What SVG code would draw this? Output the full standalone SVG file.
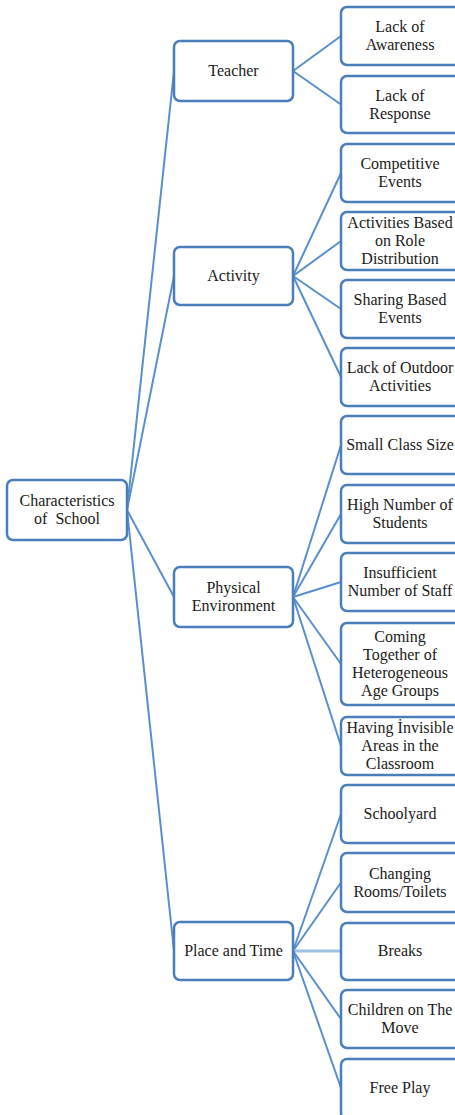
<svg xmlns="http://www.w3.org/2000/svg" width="455" height="1115" viewBox="0 0 455 1115">
<style>
.box{fill:#fff;stroke:#4a7ebb;stroke-width:2.5}
.t{font-family:"Liberation Serif","Times New Roman",serif;font-size:16px;fill:#1a1a1a;text-anchor:middle}
.c{stroke:#5a8fcb;stroke-width:2;fill:none}
.cl{stroke:#9fc2e6;stroke-width:3;fill:none}
</style>
<rect width="455" height="1115" fill="#fff"/>
<g id="connectors">
<line class="c" x1="127" y1="510" x2="174" y2="71"/>
<line class="c" x1="127" y1="510" x2="174" y2="276"/>
<line class="c" x1="127" y1="510" x2="174" y2="597"/>
<line class="c" x1="127" y1="510" x2="174" y2="951"/>
<line class="c" x1="293" y1="71" x2="341" y2="36"/>
<line class="c" x1="293" y1="71" x2="341" y2="104.5"/>
<line class="c" x1="293" y1="276" x2="341" y2="173"/>
<line class="c" x1="293" y1="276" x2="341" y2="241"/>
<line class="c" x1="293" y1="276" x2="341" y2="309"/>
<line class="c" x1="293" y1="276" x2="341" y2="377"/>
<line class="c" x1="293" y1="597" x2="341" y2="445"/>
<line class="c" x1="293" y1="597" x2="341" y2="514"/>
<line class="c" x1="293" y1="597" x2="341" y2="582"/>
<line class="c" x1="293" y1="597" x2="341" y2="664"/>
<line class="c" x1="293" y1="597" x2="341" y2="746"/>
<line class="c" x1="293" y1="951" x2="341" y2="814"/>
<line class="c" x1="293" y1="951" x2="341" y2="882.5"/>
<line class="cl" x1="293" y1="951" x2="341" y2="951"/>
<line class="c" x1="293" y1="951" x2="341" y2="1019"/>
<line class="c" x1="293" y1="951" x2="341" y2="1088"/>
</g>
<g id="root"><rect class="box" x="7" y="480" width="120" height="60" rx="6"/><text class="t" x="67" y="506">Characteristics</text><text class="t" x="67" y="524" xml:space="preserve">of  School</text></g>
<g id="teacher"><rect class="box" x="174" y="41" width="119" height="60" rx="6"/><text class="t" x="233.5" y="76">Teacher</text></g>
<g id="activity"><rect class="box" x="174" y="247" width="119" height="58" rx="6"/><text class="t" x="233.5" y="281">Activity</text></g>
<g id="physical"><rect class="box" x="174" y="567" width="119" height="60" rx="6"/><text class="t" x="233.5" y="593">Physical</text><text class="t" x="233.5" y="611">Environment</text></g>
<g id="placetime"><rect class="box" x="174" y="922" width="119" height="58" rx="6"/><text class="t" x="233.5" y="956">Place and Time</text></g>
<g id="l1"><rect class="box" x="341" y="7" width="122" height="58" rx="6"/><text class="t" x="400" y="32">Lack of</text><text class="t" x="400" y="50">Awareness</text></g>
<g id="l2"><rect class="box" x="341" y="76" width="122" height="57" rx="6"/><text class="t" x="400" y="100.5">Lack of</text><text class="t" x="400" y="118.5">Response</text></g>
<g id="l3"><rect class="box" x="341" y="144" width="122" height="58" rx="6"/><text class="t" x="400" y="169">Competitive</text><text class="t" x="400" y="187">Events</text></g>
<g id="l4"><rect class="box" x="341" y="212" width="122" height="58" rx="6"/><text class="t" x="400" y="228">Activities Based</text><text class="t" x="400" y="246">on Role</text><text class="t" x="400" y="264">Distribution</text></g>
<g id="l5"><rect class="box" x="341" y="280" width="122" height="58" rx="6"/><text class="t" x="400" y="305">Sharing Based</text><text class="t" x="400" y="323">Events</text></g>
<g id="l6"><rect class="box" x="341" y="348" width="122" height="58" rx="6"/><text class="t" x="400" y="373">Lack of Outdoor</text><text class="t" x="400" y="391">Activities</text></g>
<g id="l7"><rect class="box" x="341" y="416" width="122" height="58" rx="6"/><text class="t" x="400" y="450">Small Class Size</text></g>
<g id="l8"><rect class="box" x="341" y="485" width="122" height="58" rx="6"/><text class="t" x="400" y="510">High Number of</text><text class="t" x="400" y="528">Students</text></g>
<g id="l9"><rect class="box" x="341" y="553" width="122" height="58" rx="6"/><text class="t" x="400" y="578">Insufficient</text><text class="t" x="400" y="596">Number of Staff</text></g>
<g id="l10"><rect class="box" x="341" y="623" width="122" height="82" rx="6"/><text class="t" x="400" y="642">Coming</text><text class="t" x="400" y="660">Together of</text><text class="t" x="400" y="678">Heterogeneous</text><text class="t" x="400" y="696">Age Groups</text></g>
<g id="l11"><rect class="box" x="341" y="717" width="122" height="58" rx="6"/><text class="t" x="400" y="733">Having İnvisible</text><text class="t" x="400" y="751">Areas in the</text><text class="t" x="400" y="769">Classroom</text></g>
<g id="l12"><rect class="box" x="341" y="785" width="122" height="58" rx="6"/><text class="t" x="400" y="819">Schoolyard</text></g>
<g id="l13"><rect class="box" x="341" y="853" width="122" height="59" rx="6"/><text class="t" x="400" y="878.5">Changing</text><text class="t" x="400" y="896.5">Rooms/Toilets</text></g>
<g id="l14"><rect class="box" x="341" y="923" width="122" height="57" rx="6"/><text class="t" x="400" y="956">Breaks</text></g>
<g id="l15"><rect class="box" x="341" y="990" width="122" height="58" rx="6"/><text class="t" x="400" y="1015">Children on The</text><text class="t" x="400" y="1033">Move</text></g>
<g id="l16"><rect class="box" x="341" y="1059" width="122" height="60" rx="6"/><text class="t" x="400" y="1093">Free Play</text></g>
</svg>
